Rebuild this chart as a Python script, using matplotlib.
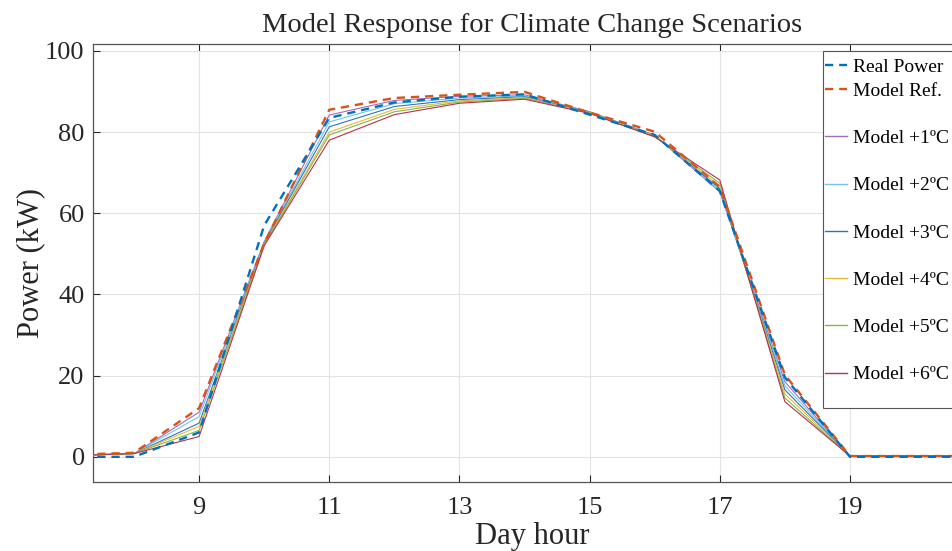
import matplotlib
matplotlib.use("Agg")
import matplotlib.pyplot as plt
from matplotlib.lines import Line2D
from matplotlib.patches import Rectangle

plt.rcParams['font.family'] = ['Liberation Serif', 'DejaVu Serif']

hours = [7, 8, 9, 10, 11, 12, 13, 14, 15, 16, 17, 18, 19, 20, 21]
real_power = [0.0, 0.0, 6.0, 57.0, 83.5, 87.3, 88.7, 89.3, 84.3, 79.3, 65.5, 19.6, 0.0, 0.0, 0.0]
model_ref = [0.5, 1.0, 12.0, 52.5, 85.5, 88.4, 89.2, 89.9, 84.8, 80.1, 66.5, 20.2, 0.2, 0.2, 0.2]
model_1 = [0.3, 0.8, 11.0, 53.0, 84.2, 87.8, 88.8, 89.2, 85.0, 79.2, 65.3, 18.5, 0.2, 0.2, 0.2]
model_2 = [0.3, 0.8, 9.9, 52.8, 82.5, 87.0, 88.4, 88.9, 85.0, 79.2, 65.6, 17.5, 0.2, 0.2, 0.2]
model_3 = [0.3, 0.8, 8.3, 52.6, 81.3, 86.3, 88.0, 88.7, 84.9, 79.1, 66.1, 16.5, 0.2, 0.2, 0.2]
model_4 = [0.3, 0.8, 7.5, 52.4, 80.0, 85.6, 87.7, 88.5, 84.8, 79.0, 66.7, 15.5, 0.2, 0.2, 0.2]
model_5 = [0.3, 0.8, 6.5, 52.2, 79.3, 85.0, 87.4, 88.3, 84.7, 78.9, 67.4, 14.5, 0.2, 0.2, 0.2]
model_6 = [0.3, 0.8, 5.0, 52.0, 78.0, 84.3, 87.1, 88.1, 84.6, 78.8, 68.2, 13.6, 0.2, 0.2, 0.2]

model_series = [model_1, model_2, model_3, model_4, model_5, model_6]
model_labels = ['Model +1ºC', 'Model +2ºC', 'Model +3ºC', 'Model +4ºC', 'Model +5ºC', 'Model +6ºC']
model_colors = ['#A46BBB', '#6CC8F0', '#2F74BA', '#EDB83C', '#84B846', '#B8304E']

x_ticks = [9, 11, 13, 15, 17, 19]
y_ticks = [0, 20, 40, 60, 80, 100]

W, H = 952, 551
fig = plt.figure(figsize=(9.52, 5.51), dpi=100)
ax = fig.add_axes([93/W, 69/H, (971-93)/W, (482-44)/H])

ax.grid(True, color='#E3E3E3', linewidth=0.8)
ax.set_axisbelow(True)

h_real, = ax.plot(hours, real_power, color='#0072BD', linestyle=(0, (3.5, 2.5)), linewidth=1.7, label='Real Power', zorder=5)
h_ref, = ax.plot(hours, model_ref, color='#D95319', linestyle=(0, (3.5, 2.5)), linewidth=1.7, label='Model Ref.', zorder=4)
model_handles = []
for vals, lab, col in zip(model_series, model_labels, model_colors):
    h, = ax.plot(hours, vals, color=col, linewidth=0.8, label=lab, zorder=3)
    model_handles.append(h)

ax.set_xlim(7.37, 20.86)
ax.set_ylim(-6.2, 101.7)
ax.set_xticks(x_ticks)
ax.set_yticks(y_ticks)
ax.tick_params(axis='both', direction='in', length=5, width=0.8, colors='#262626',
               labelsize=19, top=True, right=True)
ax.tick_params(axis='x', pad=11)
ax.tick_params(axis='y', pad=6)
for sp in ax.spines.values():
    sp.set_color('#555555')
    sp.set_linewidth(0.9)

ax.set_xlabel('Day hour', fontsize=22, color='#262626', labelpad=2)
ax.set_ylabel('Power (kW)', fontsize=22, color='#262626', labelpad=0)
ax.set_title('Model Response for Climate Change Scenarios', fontsize=20.5, color='#262626', pad=9)

# legend frame (drawn separately so the content can sit close to its left edge)
frame = Rectangle((823/W, 1 - 408/H), (990-823)/W, (408-51)/H, transform=fig.transFigure,
                  facecolor='white', edgecolor='#555555', linewidth=0.8, zorder=1)
fig.patches.append(frame)

blank = Line2D([], [], color='none')
handles = [h_real, h_ref]
labels = ['Real Power', 'Model Ref.']
for h, lab in zip(model_handles, model_labels):
    handles += [blank, h]
    labels += [' ', lab]

leg = fig.legend(handles, labels, loc='upper left', bbox_to_anchor=(825/W, 1 - 58.5/H),
                 bbox_transform=fig.transFigure, fontsize=14, frameon=False,
                 handlelength=1.15, handletextpad=0.3,
                 labelspacing=0.31, borderpad=0.0, borderaxespad=0)
leg.set_zorder(6)
for line in leg.get_lines():
    if line.get_linestyle() == '-':
        line.set_linewidth(1.0)

fig.savefig('out.png', dpi=100)
